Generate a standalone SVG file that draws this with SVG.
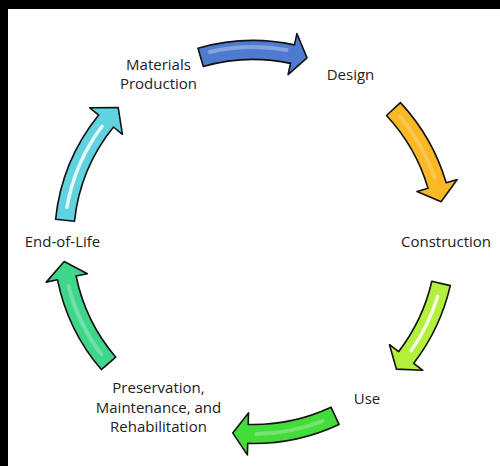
<svg xmlns="http://www.w3.org/2000/svg" width="500" height="466" viewBox="0 0 500 466">
<style>
.lbl{font-family:"Open Sans","Noto Sans","Liberation Sans",sans-serif;font-size:15px;fill:#222;text-anchor:middle}
.arr{stroke:#111;stroke-width:1.6;stroke-linejoin:round}
.hl{fill:none;stroke:#fff;stroke-linecap:round}
</style>
<rect x="0" y="0" width="500" height="466" fill="#000"/>
<rect x="8" y="9" width="492" height="457" fill="#fff"/>
<g id="connectors">
<g id="arrow-materials-design">
<path class="arr" fill="#4e7bcf" d="M198,48.2 A199.5,199.5 0 0 1 294.5,44.9 L296.9,33.6 L307,57.8 L288.1,74.7 L290.5,63.4 A180.5,180.5 0 0 0 203.3,66.5 Z"/>
<path class="hl" stroke-width="4" stroke-opacity="0.3" d="M209.6,52 A193,193 0 0 1 286.5,49.9"/>
</g>
<g id="arrow-design-construction">
<path class="arr" fill="#f9b824" d="M400.4,102.6 A201.5,201.5 0 0 1 446.2,182.8 L457.2,179.5 L441.1,201.7 L417,191.4 L428,188.2 A182.5,182.5 0 0 0 386.5,115.5 Z"/>
<path class="hl" stroke-width="4" stroke-opacity="0.2" d="M400.1,116.6 A192,192 0 0 1 434.5,177.5"/>
</g>
<g id="arrow-construction-use">
<path class="arr" fill="#b2f03c" d="M450.3,285.6 A202.5,202.5 0 0 1 413.7,363.3 L422.8,370.3 L396.4,369.1 L389.5,344.7 L398.6,351.7 A183.5,183.5 0 0 0 431.8,281.3 Z"/>
<path class="hl" stroke-width="3.5" stroke-opacity="0.85" d="M437.6,296.4 A193,193 0 0 1 411.1,350.7"/>
</g>
<g id="arrow-use-preservation">
<path class="arr" fill="#44dc3a" d="M339,424.4 A203.5,203.5 0 0 1 247.7,443.4 L247.4,454.9 L232.7,432.9 L248.5,412.9 L248.2,424.4 A184.5,184.5 0 0 0 331,407.2 Z"/>
<path class="hl" stroke-width="4" stroke-opacity="0.25" d="M322.5,421.1 A194,194 0 0 1 256.4,434"/>
</g>
<g id="arrow-preservation-endoflife">
<path class="arr" fill="#3fd68c" d="M101.3,369.6 A199.5,199.5 0 0 1 57.5,279.8 L46.2,282.1 L64.2,261.5 L87.4,273.7 L76.1,276 A180.5,180.5 0 0 0 115.8,357.2 Z"/>
<path class="hl" stroke-width="4" stroke-opacity="0.25" d="M101.3,354.3 A190,190 0 0 1 68.6,286"/>
</g>
<g id="arrow-endoflife-materials">
<path class="arr" fill="#5fd3e0" d="M55.6,219.3 A198.5,198.5 0 0 1 98.7,115.1 L89.8,107.8 L118.2,107.5 L122.4,134.3 L113.5,127 A179.5,179.5 0 0 0 74.5,221.2 Z"/>
<path class="hl" stroke-width="3.5" stroke-opacity="0.85" d="M66.9,207.2 A189,189 0 0 1 102.1,126.3"/>
</g>
</g>
<g id="node-materials"><text class="lbl" x="158.5" y="70">Materials</text><text class="lbl" x="158.5" y="89">Production</text></g>
<g id="node-design"><text class="lbl" x="350.5" y="80">Design</text></g>
<g id="node-construction"><text class="lbl" x="446" y="246.5">Construction</text></g>
<g id="node-use"><text class="lbl" x="367" y="404">Use</text></g>
<g id="node-preservation"><text class="lbl" x="158.5" y="393">Preservation,</text><text class="lbl" x="158.5" y="412.5">Maintenance, and</text><text class="lbl" x="158.5" y="432">Rehabilitation</text></g>
<g id="node-endoflife"><text class="lbl" x="62.5" y="246.5">End-of-Life</text></g>
</svg>
